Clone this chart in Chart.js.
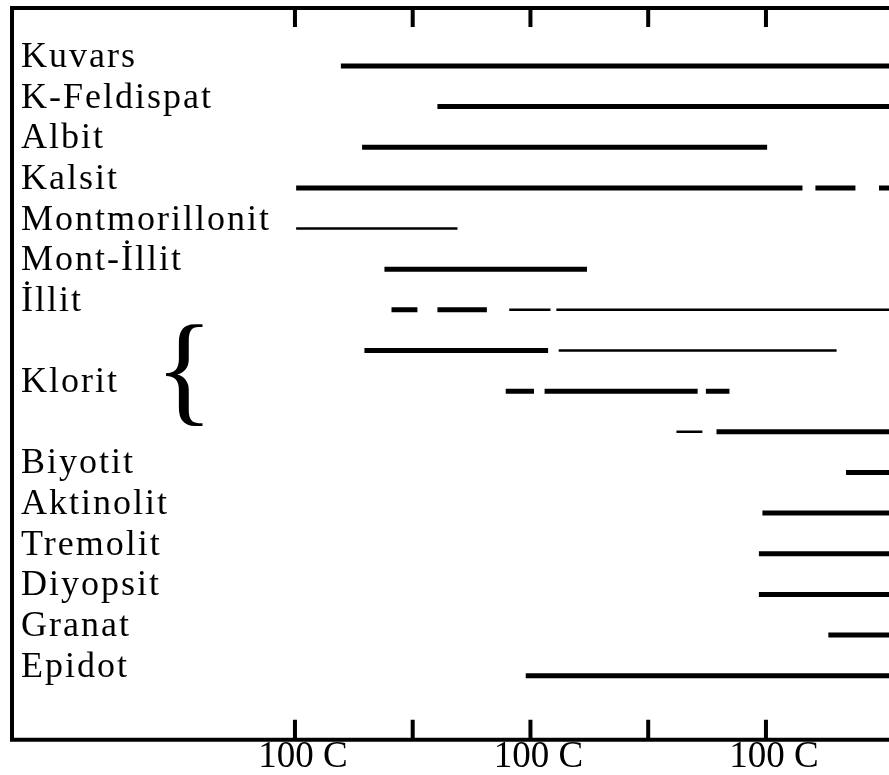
<!DOCTYPE html>
<html>
<head>
<meta charset="utf-8">
<script src="https://cdn.jsdelivr.net/npm/chart.js@4/dist/chart.umd.min.js"></script>
<style>
  body { margin: 0; background: #fff; }
  #wrap { width: 889px; height: 775px; }
</style>
</head>
<body>
<div id="wrap"><canvas id="myChart" width="889" height="775"></canvas></div>
<script>
// mineral names and the row their name sits on (Klorit spans rows 7-9)
var minerals  = ['Kuvars', 'K-Feldispat', 'Albit', 'Kalsit', 'Montmorillonit', 'Mont-İllit', 'İllit',
                 'Klorit', 'Biyotit', 'Aktinolit', 'Tremolit', 'Diyopsit', 'Granat', 'Epidot'];
var labelRows = [0, 1, 2, 3, 4, 5, 6, 8, 10, 11, 12, 13, 14, 15];

// temperature ranges, one entry per segment
var segRow  = [0,   1,   2,   3,   3,   3,   4,   5,   6,   6,   6,   6,   7,   7,   8,   8,   8,   9,   9,   10,  11,  12,  13,  14,  15];
var segFrom = [139, 221, 157, 101, 542, 596, 101, 176, 182, 221, 282, 322, 159, 324, 279, 312, 449, 424, 458, 568, 497, 494, 494, 553, 296];
var segTo   = [650, 650, 501, 531, 576, 650, 238, 348, 204, 263, 317, 650, 315, 560, 303, 442, 469, 446, 650, 650, 650, 650, 650, 650, 650];
var segKind = ['main', 'main', 'main', 'main', 'main', 'main', 'weak', 'main', 'main', 'main', 'weak', 'weak',
               'main', 'weak', 'main', 'main', 'main', 'weak', 'main', 'main', 'main', 'main', 'main', 'main', 'main'];

// x axis ticks
var xTickValues = [100, 200, 300, 400, 500];
var xTickLabels = ['100 C', '', '100 C', '', '100 C'];

var datasets = [];
for (var i = 0; i < segRow.length; i++) {
  datasets.push({
    data: [{x: segFrom[i], y: segRow[i]}, {x: segTo[i], y: segRow[i]}],
    borderColor: '#000',
    borderWidth: segKind[i] == 'main' ? 5 : 2.5,
    borderCapStyle: 'butt',
    pointRadius: 0,
    fill: false,
    tension: 0
  });
}

var framePlugin = {
  id: 'frame',
  afterDraw: function(chart) {
    var ctx = chart.ctx;
    var area = chart.chartArea;
    var xs = chart.scales.x;
    var ys = chart.scales.y;
    ctx.save();
    ctx.strokeStyle = '#000';
    ctx.lineWidth = 4;
    ctx.beginPath();
    ctx.moveTo(chart.width, area.top);
    ctx.lineTo(area.left, area.top);
    ctx.lineTo(area.left, area.bottom);
    ctx.lineTo(chart.width, area.bottom);
    ctx.stroke();

    // tick marks inside the frame, top and bottom
    for (var i = 0; i < xTickValues.length; i++) {
      var px = xs.getPixelForValue(xTickValues[i]);
      ctx.beginPath();
      ctx.moveTo(px, area.top);
      ctx.lineTo(px, area.top + 19);
      ctx.moveTo(px, area.bottom);
      ctx.lineTo(px, area.bottom - 20);
      ctx.stroke();
    }

    // mineral names
    ctx.fillStyle = '#000';
    ctx.font = '36px "Liberation Serif"';
    ctx.letterSpacing = '2px';
    ctx.textAlign = 'left';
    ctx.textBaseline = 'alphabetic';
    for (var j = 0; j < minerals.length; j++) {
      ctx.fillText(minerals[j], 21, ys.getPixelForValue(labelRows[j]) + 1);
    }

    // brace for the three Klorit rows
    ctx.letterSpacing = '0px';
    ctx.font = '122px "Liberation Serif"';
    ctx.fillText('{', 155, ys.getPixelForValue(8) + 19);
    ctx.restore();
  }
};

var ctx = document.getElementById('myChart').getContext('2d');
var myChart = new Chart(ctx, {
  type: 'line',
  data: { datasets: datasets },
  options: {
    responsive: false,
    animation: false,
    layout: { padding: { left: 12, top: 8, right: 0, bottom: 0 } },
    plugins: { legend: { display: false }, tooltip: { enabled: false } },
    scales: {
      x: {
        type: 'linear',
        min: -140.3,
        max: 604.5,
        grid: { display: false, drawTicks: false },
        border: { display: false },
        afterBuildTicks: function(axis) {
          axis.ticks = xTickValues.map(function(v) { return { value: v }; });
        },
        ticks: {
          autoSkip: false,
          maxRotation: 0,
          padding: 1,
          labelOffset: 8,
          color: '#000',
          font: { family: 'Liberation Serif', size: 37, lineHeight: 0.9 },
          callback: function(value) {
            var k = xTickValues.indexOf(value);
            return k >= 0 ? xTickLabels[k] : '';
          }
        }
      },
      y: {
        type: 'linear',
        reverse: true,
        display: false,
        min: -1.426,
        max: 16.574
      }
    }
  },
  plugins: [framePlugin]
});
</script>
</body>
</html>
